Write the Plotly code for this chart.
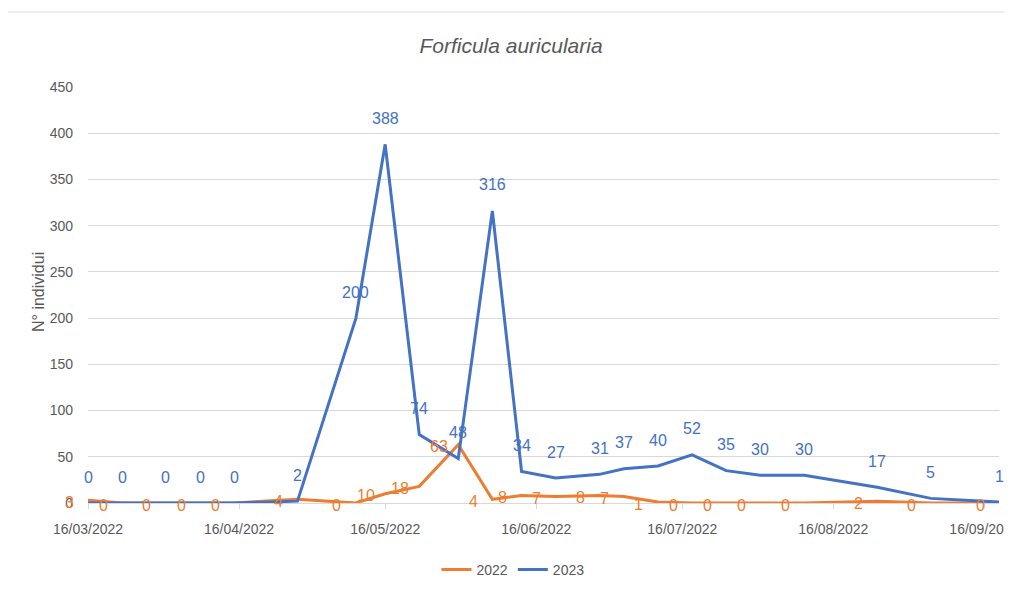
import plotly.graph_objects as go

dates = ["2022-03-16", "2022-03-23", "2022-04-01", "2022-04-08", "2022-04-15",
         "2022-04-28", "2022-05-10", "2022-05-16", "2022-05-23", "2022-05-31",
         "2022-06-07", "2022-06-13", "2022-06-20", "2022-06-29", "2022-07-04",
         "2022-07-11", "2022-07-18", "2022-07-25", "2022-08-01", "2022-08-10",
         "2022-08-25", "2022-09-05", "2022-09-19"]
y2022 = [3, 0, 0, 0, 0, 4, 0, 10, 18, 63, 4, 8, 7, 8, 7, 1, 0, 0, 0, 0, 2, 0, 0]
y2023 = [0, 0, 0, 0, 0, 2, 200, 388, 74, 48, 316, 34, 27, 31, 37, 40, 52, 35, 30, 30, 17, 5, 1]

tick_dates = ["2022-03-16", "2022-04-16", "2022-05-16", "2022-06-16",
              "2022-07-16", "2022-08-16", "2022-09-16"]
tick_labels = ["16/03/2022", "16/04/2022", "16/05/2022", "16/06/2022",
               "16/07/2022", "16/08/2022", "16/09/2022"]
y_ticks = [0, 50, 100, 150, 200, 250, 300, 350, 400, 450]

ORANGE = "#ED7D31"
BLUE = "#4472C4"
GRAY = "#595959"
FONT = "Liberation Sans, Arial, sans-serif"

# page has an 8px body margin; figure is sized so it ends at the window edge
W, H, OFF = 1004, 585, 8
PL, PR, PT, PB = 88 - OFF, 999 - OFF, 87 - OFF, 503 - OFF  # plot area in figure px
PW, PHt = PR - PL, PB - PT


def px_x(page_x):
    return (page_x - OFF - PL) / PW


def px_y(page_y):
    return (PB - (page_y - OFF)) / PHt


fig = go.Figure()
fig.add_trace(go.Scatter(x=dates, y=y2022, mode="lines", name="2022",
                         line=dict(color=ORANGE, width=3)))
fig.add_trace(go.Scatter(x=dates, y=y2023, mode="lines", name="2023",
                         line=dict(color=BLUE, width=3)))

annotations = []
for d, v in zip(dates, y2022):
    annotations.append(dict(x=d, y=v, xref="x", yref="y", text=str(v), showarrow=False,
                            xshift=-19, yshift=-2,
                            font=dict(family=FONT, size=16, color=ORANGE)))
for d, v in zip(dates, y2023):
    annotations.append(dict(x=d, y=v, xref="x", yref="y", text=str(v), showarrow=False,
                            yshift=26,
                            font=dict(family=FONT, size=16, color=BLUE)))
annotations.append(dict(x=px_x(38), y=px_y(292), xref="paper", yref="paper",
                        xanchor="center", yanchor="middle",
                        text="N° individui", showarrow=False, textangle=-90,
                        font=dict(family=FONT, size=16, color=GRAY)))

fig.update_layout(
    width=W, height=H,
    margin=dict(l=PL, r=W - PR, t=PT, b=H - PB, autoexpand=False),
    paper_bgcolor="white", plot_bgcolor="white",
    font=dict(family=FONT, color=GRAY),
    title=dict(text="<i>Forficula auricularia</i>", x=(511 - OFF) / W, xref="container",
               y=1 - (46 - OFF) / H, yref="container", xanchor="center", yanchor="middle",
               font=dict(family=FONT, size=21, color=GRAY)),
    showlegend=True,
    legend=dict(orientation="h", x=px_x(513), xanchor="center",
                y=px_y(570), yanchor="middle",
                font=dict(family=FONT, size=14, color=GRAY)),
    annotations=annotations,
    shapes=[dict(type="rect", xref="paper", yref="paper",
                 x0=px_x(6), x1=1.1, y0=-0.4, y1=px_y(12),
                 line=dict(color="#D9D9D9", width=1), layer="below")],
)
fig.update_xaxes(type="date", range=["2022-03-16", "2022-09-19"],
                 tickvals=tick_dates, ticktext=tick_labels, automargin=False,
                 showgrid=False, showline=True, linecolor="#D9D9D9", linewidth=1,
                 ticks="outside", ticklen=5, tickcolor="#D9D9D9",
                 ticklabelstandoff=8, ticklabeloverflow="allow",
                 tickfont=dict(family=FONT, size=14, color=GRAY))
fig.update_yaxes(range=[0, 450], tickvals=y_ticks, showgrid=True, automargin=False,
                 gridcolor="#D9D9D9", gridwidth=1, zeroline=False,
                 ticks="", ticklabelstandoff=14,
                 tickfont=dict(family=FONT, size=14, color=GRAY))

fig.write_html("out.html")
